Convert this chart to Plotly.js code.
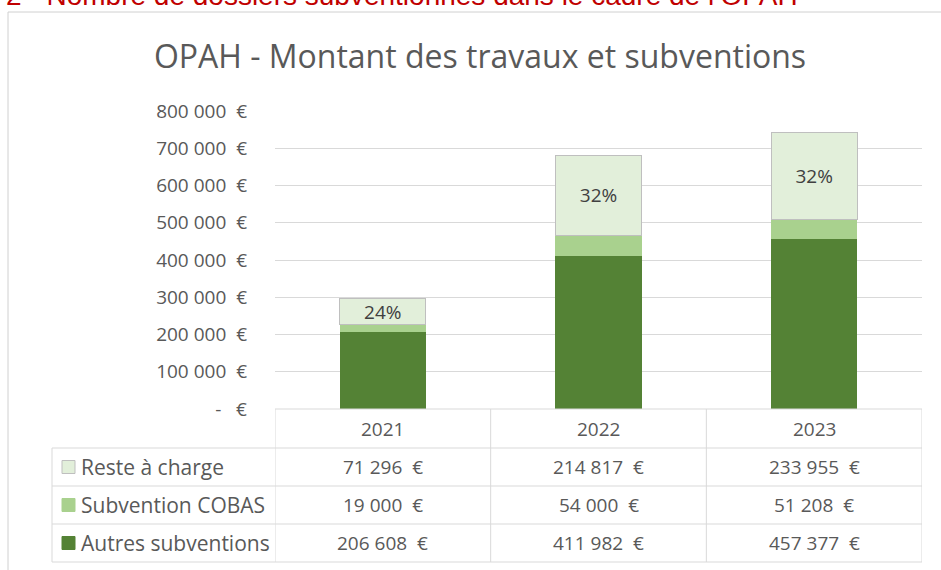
<!DOCTYPE html>
<html>
<head>
<meta charset="utf-8">
<script src="https://cdn.plot.ly/plotly-3.0.1.min.js"></script>
<style>html,body{margin:0;padding:0;background:#fff;}#chart{width:941px;height:570px;}</style>
</head>
<body>
<div id="chart"></div>
<script>
// ---- data ----
const categories = ['2021', '2022', '2023'];
const seriesNames = ['Reste à charge', 'Subvention COBAS', 'Autres subventions'];
const autres = [206608, 411982, 457377];
const cobas = [19000, 54000, 51208];
const reste = [71296, 214817, 233955];
const pctLabels = ['24%', '32%', '32%'];
const yTickVals = [0, 100000, 200000, 300000, 400000, 500000, 600000, 700000, 800000];
const yTickText = ['-\u00A0\u00A0\u00A0€', '100\u00A0000\u00A0\u00A0€', '200\u00A0000\u00A0\u00A0€', '300\u00A0000\u00A0\u00A0€',
  '400\u00A0000\u00A0\u00A0€', '500\u00A0000\u00A0\u00A0€', '600\u00A0000\u00A0\u00A0€', '700\u00A0000\u00A0\u00A0€', '800\u00A0000\u00A0\u00A0€'];
const chartTitle = 'OPAH - Montant des travaux et subventions';
const pageHeading = '2 - Nombre de dossiers subventionnés dans le cadre de l\u2019OPAH';

// ---- styles ----
const colors = { reste: '#E2EFDA', cobas: '#A9D18E', autres: '#548235' };
const textGrey = '#595959';
const lineGrey = '#d9d9d9';
const FONT = 'Open Sans, sans-serif';

const W = 941, H = 570;
const M = { l: 275, r: 19, t: 111, b: 161 };
const plotW = W - M.l - M.r, plotH = H - M.t - M.b;
const px = X => (X - M.l) / plotW;          // pixel x -> paper
const py = Y => (H - M.b - Y) / plotH;       // pixel y -> paper

function fmt(v) {
  return String(v).replace(/\B(?=(\d{3})+(?!\d))/g, '\u00A0') + '\u00A0\u00A0€';
}

const xIdx = categories.map((c, i) => i);

const traces = [
  { type: 'bar', name: seriesNames[2], x: xIdx, y: autres, width: 0.4,
    marker: { color: colors.autres }, hoverinfo: 'skip' },
  { type: 'bar', name: seriesNames[1], x: xIdx, y: cobas, width: 0.4,
    marker: { color: colors.cobas }, hoverinfo: 'skip' },
  { type: 'bar', name: seriesNames[0], x: xIdx, y: reste, width: 0.4,
    marker: { color: colors.reste, line: { color: '#bfbfbf', width: 1 } },
    text: pctLabels, textposition: 'inside', insidetextanchor: 'middle',
    constraintext: 'none', textangle: 0,
    insidetextfont: { family: FONT, size: 19, color: '#404040' }, hoverinfo: 'skip' }
];

// table geometry (pixels)
const rowEdges = [409, 448, 486, 524, 562];
const leftX = 52, rightX = M.l + plotW;
const colEdges = [-0.5, 0.5, 1.5, 2.5];

const shapes = [];
const annotations = [];

// outer chart frame
shapes.push({ type: 'rect', xref: 'paper', yref: 'paper', x0: px(8), x1: px(960), y0: py(590), y1: py(12),
  line: { color: '#d0d0d0', width: 1 }, fillcolor: 'rgba(0,0,0,0)', layer: 'below' });

// horizontal table lines
shapes.push({ type: 'line', xref: 'paper', yref: 'paper', x0: px(M.l), x1: px(rightX), y0: py(rowEdges[0]), y1: py(rowEdges[0]),
  line: { color: lineGrey, width: 1 } });
for (let k = 1; k < rowEdges.length; k++) {
  shapes.push({ type: 'line', xref: 'paper', yref: 'paper', x0: px(leftX), x1: px(rightX), y0: py(rowEdges[k]), y1: py(rowEdges[k]),
    line: { color: lineGrey, width: 1 } });
}
// vertical table lines
shapes.push({ type: 'line', xref: 'paper', yref: 'paper', x0: px(leftX), x1: px(leftX), y0: py(rowEdges[1]), y1: py(rowEdges[4]),
  line: { color: lineGrey, width: 1 } });
colEdges.forEach(c => {
  shapes.push({ type: 'line', xref: 'x', yref: 'paper', x0: c, x1: c, y0: py(rowEdges[0]), y1: py(rowEdges[4]),
    line: { color: lineGrey, width: 1 } });
});

// year header
categories.forEach((c, i) => {
  annotations.push({ xref: 'x', yref: 'paper', x: i, y: py((rowEdges[0] + rowEdges[1]) / 2),
    text: c, showarrow: false, xanchor: 'center', yanchor: 'middle',
    font: { family: FONT, size: 19, color: textGrey } });
});

// table rows
const rows = [
  { name: seriesNames[0], vals: reste, color: colors.reste, line: '#bfbfbf' },
  { name: seriesNames[1], vals: cobas, color: colors.cobas, line: colors.cobas },
  { name: seriesNames[2], vals: autres, color: colors.autres, line: colors.autres }
];
rows.forEach((r, k) => {
  const yc = (rowEdges[k + 1] + rowEdges[k + 2]) / 2;
  shapes.push({ type: 'rect', xref: 'paper', yref: 'paper', x0: px(62), x1: px(75), y0: py(yc + 6.5), y1: py(yc - 6.5),
    fillcolor: r.color, line: { color: r.line, width: 1 } });
  annotations.push({ xref: 'paper', yref: 'paper', x: px(79), y: py(yc), text: r.name, showarrow: false,
    xanchor: 'left', yanchor: 'middle', font: { family: FONT, size: 21, color: textGrey } });
  r.vals.forEach((v, i) => {
    annotations.push({ xref: 'x', yref: 'paper', x: i, y: py(yc), text: fmt(v), showarrow: false,
      xanchor: 'center', yanchor: 'middle', font: { family: FONT, size: 19, color: textGrey } });
  });
});

// page heading (cut at top, as in the source document)
annotations.push({ xref: 'paper', yref: 'paper', x: px(4), y: py(13), text: pageHeading, showarrow: false,
  xanchor: 'left', yanchor: 'bottom', font: { family: 'Liberation Sans, Arial, sans-serif', size: 28, color: '#C00000' } });

const layout = {
  width: W, height: H,
  margin: M,
  paper_bgcolor: '#ffffff', plot_bgcolor: '#ffffff',
  barmode: 'stack', showlegend: false,
  title: { text: chartTitle, xref: 'container', yref: 'container', x: 480 / W, y: 1 - 57 / H,
    xanchor: 'center', yanchor: 'middle', font: { family: FONT, size: 32, color: textGrey } },
  xaxis: { type: 'linear', range: [-0.5, 2.5], showticklabels: false, showgrid: false, zeroline: false,
    showline: false, ticks: '', fixedrange: true },
  yaxis: { range: [0, 800000], tickvals: yTickVals, ticktext: yTickText, showgrid: true, gridcolor: lineGrey,
    gridwidth: 1, zeroline: false, showline: false, ticks: '', ticklabelstandoff: 27,
    tickfont: { family: FONT, size: 19, color: textGrey }, fixedrange: true },
  shapes: shapes,
  annotations: annotations
};

Plotly.newPlot('chart', traces, layout, { displayModeBar: false, staticPlot: true });
</script>
</body>
</html>
